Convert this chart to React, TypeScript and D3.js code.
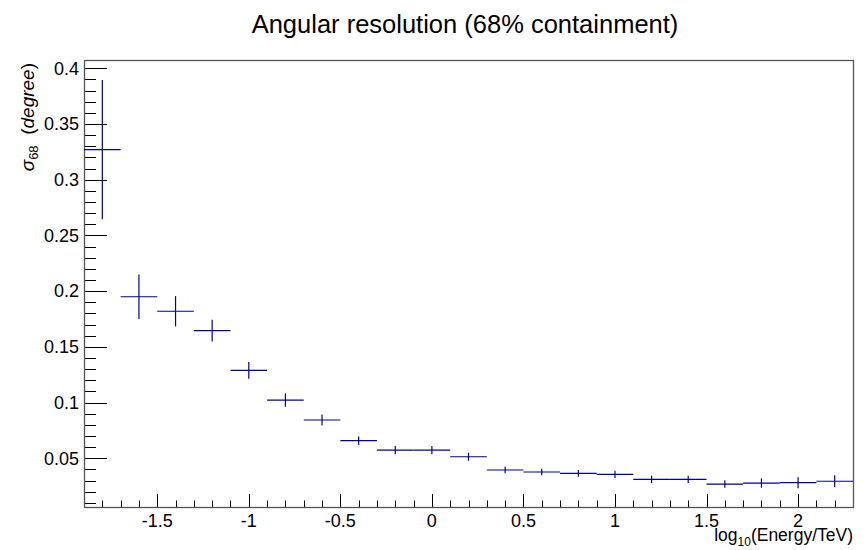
import React from 'react';
import * as d3 from 'd3';

const width = 868;
const height = 550;
const margin = {top: 60, right: 15, bottom: 43, left: 84};
const blue = '#00009a';
const font = '"Liberation Sans", Arial, Helvetica, sans-serif';

// bin centres in log10(E/TeV), bins are 0.2 wide
const binCenters = [-1.8, -1.6, -1.4, -1.2, -1.0, -0.8, -0.6, -0.4, -0.2, 0.0, 0.2,
  0.4, 0.6, 0.8, 1.0, 1.2, 1.4, 1.6, 1.8, 2.0, 2.2];
const binHalf = 0.1;
const sigma68 = [0.327, 0.195, 0.182, 0.1646, 0.129, 0.1023, 0.0844, 0.0658, 0.0574, 0.0574, 0.0514,
  0.0395, 0.0377, 0.0365, 0.0356, 0.0311, 0.0311, 0.0269, 0.0278, 0.0281, 0.0294];
const sigmaErr = [0.0625, 0.020, 0.0136, 0.0097, 0.0075, 0.006, 0.005, 0.0038, 0.0037, 0.0037, 0.0036,
  0.003, 0.003, 0.003, 0.0033, 0.0033, 0.0033, 0.0033, 0.0042, 0.0049, 0.0054];

const xTicks = [-1.5, -1, -0.5, 0, 0.5, 1, 1.5, 2];
const xTickLabels = ['-1.5', '-1', '-0.5', '0', '0.5', '1', '1.5', '2'];
const yTicks = [0.05, 0.1, 0.15, 0.2, 0.25, 0.3, 0.35, 0.4];
const yTickLabels = ['0.05', '0.1', '0.15', '0.2', '0.25', '0.3', '0.35', '0.4'];

const xScale = d3.scaleLinear().domain([-1.9, 2.3]).range([margin.left, width - margin.right]);
const yScale = d3.scaleLinear().domain([0.0063, 0.4075]).range([height - margin.bottom, margin.top]);

const xMinor = d3.range(-19, 24).map(d => d / 10);
const yMinor = d3.range(1, 41).map(d => d / 100);

export default function App() {
  const x0 = margin.left;
  const x1 = width - margin.right;
  const y0 = height - margin.bottom;
  const y1 = margin.top;

  return (
    <svg width={width} height={height} style={{position: 'absolute', left: 0, top: 0, background: '#fff'}}
      fontFamily={font}>
      <text x={465} y={33} fontSize={25.5} textAnchor='middle' fill='#000'>
        Angular resolution (68% containment)
      </text>

      {/* ticks */}
      <g stroke='#000' strokeWidth={1}>
        {xMinor.map((d, i) => {
          const major = xTicks.some(t => Math.abs(t - d) < 1e-6);
          const x = Math.round(xScale(d)) + 0.5;
          return <line key={'xm' + i} x1={x} x2={x} y1={y0} y2={y0 - (major ? 13 : 6.5)} />;
        })}
        {yMinor.map((d, i) => {
          const major = yTicks.some(t => Math.abs(t - d) < 1e-6);
          const y = Math.round(yScale(d)) + 0.5;
          return <line key={'ym' + i} x1={x0} x2={x0 + (major ? 23 : 12)} y1={y} y2={y} />;
        })}
      </g>

      {/* frame */}
      <rect x={x0 + 0.5} y={y1 + 0.5} width={x1 - x0} height={y0 - y1} fill='none' stroke='#555' strokeWidth={1.3} />

      {/* tick labels */}
      <g fontSize={18} fill='#000'>
        {xTicks.map((d, i) => (
          <text key={'xl' + i} x={xScale(d)} y={527} textAnchor='middle'>{xTickLabels[i]}</text>
        ))}
        {yTicks.map((d, i) => (
          <text key={'yl' + i} x={79} y={yScale(d)} dy='0.35em' textAnchor='end'>{yTickLabels[i]}</text>
        ))}
      </g>

      {/* axis titles */}
      <text x={853} y={541} fontSize={17.5} textAnchor='end' fill='#000'>
        log<tspan fontSize={12} dy={5}>10</tspan><tspan dy={-5}>(Energy/TeV)</tspan>
      </text>
      <text transform='translate(34,63) rotate(-90)' fontSize={19} textAnchor='end' fill='#000'>
        <tspan fontStyle='italic'>σ</tspan><tspan fontSize={13} dy={4}>68</tspan>
        <tspan dy={-4}>{'\u00a0\u00a0('}</tspan><tspan fontStyle='italic'>degree</tspan><tspan>)</tspan>
      </text>

      {/* data points with error bars */}
      <g stroke={blue} strokeWidth={1.2} fill='none'>
        {binCenters.map((c, i) => (
          <g key={'p' + i}>
            <line x1={xScale(c - binHalf)} x2={xScale(c + binHalf)} y1={yScale(sigma68[i])} y2={yScale(sigma68[i])} />
            <line x1={xScale(c)} x2={xScale(c)} y1={yScale(sigma68[i] - sigmaErr[i])} y2={yScale(sigma68[i] + sigmaErr[i])} />
          </g>
        ))}
      </g>
    </svg>
  );
}
